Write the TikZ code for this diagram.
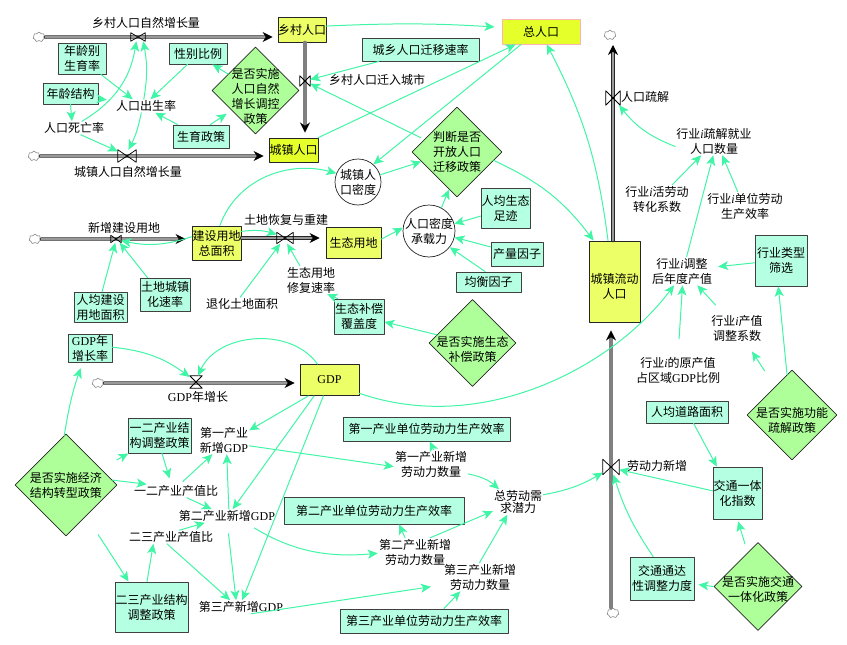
\documentclass[tikz,border=0pt]{standalone}
\usepackage{fontspec}
\setmainfont{Noto Sans CJK SC}
\newfontfamily\latinfont{Liberation Serif}
\newcommand{\gdptext}{{\latinfont GDP}}
\newcommand{\indi}{{\latinfont\itshape i}}
\usetikzlibrary{arrows.meta,shapes.geometric,shapes.symbols}
\definecolor{auxfill}{HTML}{B5FFE2}
\definecolor{stockfill}{HTML}{EDFF66}
\definecolor{stockbright}{HTML}{E4FF2A}
\definecolor{policyfill}{HTML}{AEFF99}
\definecolor{linkgreen}{HTML}{40F5A5}
\tikzset{
  stockbox/.style 2 args={draw=black!85,fill=stockfill,line width=.9pt,inner sep=0pt,minimum width=#1,minimum height=#2},
  auxbox/.style 2 args={draw=black!75,fill=auxfill,line width=.9pt,inner sep=0pt,minimum width=#1,minimum height=#2},
  policybox/.style={diamond,draw=black!85,fill=policyfill,line width=.7pt,inner sep=0pt,minimum size=#1},
  roundbox/.style={circle,draw=black!85,fill=white,line width=.7pt,inner sep=0pt,minimum size=#1},
  sourcecloud/.style={cloud,cloud puffs=7,cloud puff arc=150,aspect=1.2,draw=black!55,fill=white,line width=.5pt,inner sep=0pt,minimum width=12pt,minimum height=10pt},
  flowpipe/.style={draw=black!85,line width=.9pt,double=black!40,double distance=1.6pt,-{Stealth[black,length=10pt,width=10pt]}},
  graypipe/.style={draw=black!50,line width=3.5pt,-{Stealth[black,length=10pt,width=10pt]}},
  link/.style={color=linkgreen,line width=1pt,-{Stealth[linkgreen,fill=linkgreen,length=10pt,width=9pt,inset=2.5pt]}}
}
\newcommand{\valvebow}[5]{\node [inner sep=0pt,minimum width=#4pt,minimum height=#5pt] (#1) at (#2,#3) {};
\draw [line width=.75pt] (#1.north west)-- (#1.south east)-- (#1.north east)-- (#1.south west)-- cycle;}
\newcommand{\valveglass}[5]{\node [inner sep=0pt,minimum width=#4pt,minimum height=#5pt] (#1) at (#2,#3) {};
\draw [line width=.75pt] (#1.north west)-- (#1.south east)-- (#1.south west)-- (#1.north east)-- cycle;}
\begin{document}
\begin{tikzpicture}[line cap=round,line join=round,x=1pt,y=1pt,every node/.style={font=\fontsize{12}{15}\selectfont,align=center,inner sep=1pt}]
\useasboundingbox (0,0) rectangle (847,-645);
% stocks
\node [stockbox={48pt}{25pt}] (ruralpop) at (302,-29.5) {乡村人口};
\node [stockbox={49pt}{24pt},fill=stockbright] (urbanpop) at (293.5,-150) {城镇人口};
\node [stockbox={78pt}{25pt},fill=stockbright,draw=red!30] (totalpop) at (541,-31.5) {总人口};
\node [stockbox={49pt}{34pt}] (landarea) at (216.5,-243) {建设用地\\总面积};
\node [stockbox={55pt}{31pt}] (ecoland) at (353.5,-243) {生态用地};
\node [stockbox={59pt}{31pt}] (gdp) at (329.5,-380) {\gdptext};
\node [stockbox={51pt}{81pt},label={[yshift=-5pt]center:城镇流动\\人口}] (floatpop) at (614.5,-281.5) {};
% auxiliaries in boxes
\node [auxbox={48pt}{31pt}] (agefert) at (82,-58.5) {年龄别\\生育率};
\node [auxbox={55pt}{21pt}] (agestruct) at (70.5,-93.5) {年龄结构};
\node [auxbox={58pt}{21pt}] (sexratio) at (198,-53.5) {性别比例};
\node [auxbox={56pt}{23pt}] (fertpolicy) at (201,-136.5) {生育政策};
\node [auxbox={117pt}{23pt}] (migspeed) at (420.5,-49.5) {城乡人口迁移速率};
\node [auxbox={49pt}{40pt}] (ecofoot) at (505.5,-208) {人均生态\\足迹};
\node [auxbox={52pt}{24pt}] (yieldf) at (517,-254) {产量因子};
\node [auxbox={65pt}{20pt}] (equilf) at (488.5,-282) {均衡因子};
\node [auxbox={53pt}{30pt}] (percapland) at (100.5,-307) {人均建设\\用地面积};
\node [auxbox={50pt}{33pt}] (urbanrate) at (165,-294.5) {土地城镇\\化速率};
\node [auxbox={50pt}{35pt}] (ecocover) at (359,-316.5) {生态补偿\\覆盖度};
\node [auxbox={44pt}{28pt}] (gdprate) at (90,-348) {\gdptext 年\\增长率};
\node [auxbox={63pt}{35pt}] (policyA) at (159.5,-435.5) {一二产业结\\构调整政策};
\node [auxbox={73pt}{50pt}] (policyB) at (151.5,-607) {二三产业结构\\调整政策};
\node [auxbox={167pt}{24pt}] (laborA) at (426.5,-429) {第一产业单位劳动力生产效率};
\node [auxbox={180pt}{27pt}] (laborB) at (374,-510.5) {第二产业单位劳动力生产效率};
\node [auxbox={168pt}{24pt}] (laborC) at (424,-621) {第三产业单位劳动力生产效率};
\node [auxbox={52pt}{51pt}] (indfilter) at (781,-260.5) {行业类型\\筛选};
\node [auxbox={82pt}{22pt}] (roadarea) at (687,-412) {人均道路面积};
\node [auxbox={49pt}{52pt}] (transidx) at (737.5,-493) {交通一体\\化指数};
\node [auxbox={64pt}{43pt}] (access) at (662,-578.5) {交通通达\\性调整力度};
% policy diamonds
\node [policybox=87pt,label={[yshift=-6pt]center:是否实施\\人口自然\\增长调控\\政策}] (popctrl) at (255.5,-90.5) {};
\node [policybox=90pt,label={center:判断是否\\开放人口\\迁移政策}] (migdec) at (457,-152) {};
\node [policybox=87pt,label={[yshift=-6pt]center:是否实施生态\\补偿政策}] (ecopolicy) at (472.5,-343) {};
\node [policybox=102pt,label={center:是否实施经济\\结构转型政策}] (econpolicy) at (66,-485) {};
\node [policybox=90pt,label={[yshift=-5pt]center:是否实施功能\\疏解政策}] (funcpolicy) at (792,-415) {};
\node [policybox=88pt,label={[yshift=-3pt]center:是否实施交通\\一体化政策}] (transpolicy) at (758,-586.5) {};
% circles
\node [roundbox=46pt,label={center:城镇人\\口密度}] (densU) at (358,-182) {};
\node [roundbox=52pt,label={center:人口密度\\承载力}] (capac) at (429,-231) {};
% plain variables
\node (ruralflow) at (146,-23) {乡村人口自然增长量};
\node (migflow) at (377,-80) {乡村人口迁入城市};
\node (urbanflow) at (128,-172) {城镇人口自然增长量};
\node (birth) at (146,-106) {人口出生率};
\node (death) at (74,-128) {人口死亡率};
\node (newland) at (124,-228) {新增建设用地};
\node (restore) at (286,-220) {土地恢复与重建};
\node (ecorate) at (311,-280) {生态用地\\修复速率};
\node (degraded) at (242,-304) {退化土地面积};
\node (gdpflow) at (198,-397) {\gdptext 年增长};
\node (gdpA) at (224,-440) {第一产业\\新增\gdptext};
\node (ratioA) at (176,-491) {一二产业产值比};
\node (gdpB) at (227,-516) {第二产业新增\gdptext};
\node (ratioB) at (171,-537) {二三产业产值比};
\node (gdpC) at (241,-607) {第三产新增\gdptext};
\node (newlabA) at (431,-464) {第一产业新增\\劳动力数量};
\node (newlabB) at (415,-552) {第二产业新增\\劳动力数量};
\node (newlabC) at (480,-577) {第三产业新增\\劳动力数量};
\node [font=\fontsize{12}{12}\selectfont] (demand) at (518,-502) {总劳动需\\求潜力};
\node (laborflow) at (657,-466) {劳动力新增};
\node (outflow) at (645,-97) {人口疏解};
\node (jobs) at (714,-141) {行业\indi 疏解就业\\人口数量};
\node (convert) at (657,-199) {行业\indi 活劳动\\转化系数};
\node (outputeff) at (745,-206) {行业\indi 单位劳动\\生产效率};
\node (adjvalue) at (682,-271) {行业\indi 调整\\后年度产值};
\node (adjcoef) at (737,-328) {行业\indi 产值\\调整系数};
\node (orig) at (678,-370) {行业\indi 的原产值\\占区域\gdptext 比例};
% clouds
\node [sourcecloud] (cloudA) at (39,-37) {};
\node [sourcecloud] (cloudB) at (34,-156) {};
\node [sourcecloud] (cloudC) at (35,-239) {};
\node [sourcecloud] (cloudD) at (98,-383) {};
\node [sourcecloud] (cloudE) at (610,-35) {};
\node [sourcecloud] (cloudF) at (613,-613) {};
% pipes
\draw [flowpipe,shorten >=5pt] (cloudA.east)-- (ruralpop.west |- cloudA);
\draw [graypipe,shorten >=5pt] ([xshift=3pt]ruralpop.south)-- ([xshift=11.5pt]urbanpop.north);
\draw [flowpipe,shorten >=5pt] (cloudB.east)-- (urbanpop.west |- cloudB);
\draw [flowpipe,shorten >=6pt] (cloudC.east)-- (landarea.west |- cloudC);
\draw [flowpipe,shorten >=6pt] ([yshift=5pt]landarea.east)-- ([yshift=5pt]ecoland.west);
\draw [flowpipe,shorten >=5pt] (cloudD.east)-- (gdp.west |- cloudD);
\draw [flowpipe,shorten >=6pt] ([xshift=-1.5pt]floatpop.north)-- ([xshift=3pt]cloudE.south);
\draw [graypipe,shorten >=8pt] ([xshift=-2pt]cloudF.north)-- ([xshift=-3.5pt]floatpop.south);
% valves
\valvebow{valveA}{138}{-37}{14}{8}
\valvebow{valveB}{305}{-81}{10}{10}
\valvebow{valveC}{127}{-156}{18}{12}
\valvebow{valveD}{116}{-239}{10}{7}
\valvebow{valveE}{285}{-238}{16}{11}
\valveglass{valveF}{196}{-382}{12}{12}
\valvebow{valveG}{613}{-98}{14}{14}
\valvebow{valveH}{611}{-467}{16}{15}
% influences, population
\draw [link] (agefert.-40)-- (birth.153);
\draw [link,shorten >=8pt] (agestruct.-11)-- (birth.170);
\draw [link] (agestruct.-90)-- (death.107);
\draw [link] (death.40) to[bend right=25] (valveA.-112);
\draw [link] (death.-45)-- (valveC.153);
\draw [link] (birth.108) to[bend right=10] (valveA.-39);
\draw [link] (birth.-125) to[bend left=8] (valveC.77);
\draw [link] (sexratio.-134)-- (birth.56);
\draw [link] (fertpolicy.153)-- (birth.-36);
\draw [link,shorten >=6pt] (fertpolicy.52)-- (popctrl.-140);
\draw [link] (popctrl.149)-- (sexratio.-37);
\draw [link] (migspeed.-164)-- (valveB.16);
\draw [link,shorten <=4pt] (migdec.159)-- (valveB.-27);
\draw [link] (urbanpop.north east)-- (totalpop.-153);
\draw [link] (totalpop.-147)-- (densU.49);
\draw [link,shorten >=7pt] (ruralpop.8) to[bend left=3] (totalpop.174);
\draw [link] (landarea.79) to[out=70,in=165] (densU.158);
\draw [link] (densU.18)-- (migdec.-165);
\draw [link] (capac.62)-- (migdec.-102);
\draw [link] (ecofoot.-162)-- (capac.16);
\draw [link] (yieldf.165)-- (capac.-14);
\draw [link] (equilf.108)-- (capac.-38);
\draw [link] (ecoland.8)-- (capac.173);
\draw [link] (migdec.-13) to[bend left=14] (floatpop.117);
\draw [link] (floatpop.99) to[bend right=10] (totalpop.-66);
% influences, land
\draw [link] (landarea.166) to[bend left=15] (valveD.-17);
\draw [link] (landarea.25) to[bend left=12] (valveE.157);
\draw [link] (percapland.84)-- (valveD.-101);
\draw [link] (urbanrate.136)-- (valveD.-45);
\draw [link] (degraded.105)-- (valveE.-130);
\draw [link] (ecorate.128)-- (valveE.-69);
\draw [link] (ecocover.140)-- (ecorate.-41);
\draw [link] (ecopolicy.167)-- (ecocover.-12);
% influences, economy
\draw [link] (gdprate.2) to[bend left=15] (valveF.141);
\draw [link] (gdp.127) to[bend right=60] (valveF.72);
\draw [link] (gdp.-143)-- (gdpA.21);
\draw [link] (gdp.-134)-- (gdpB.50);
\draw [link] (gdp.-111)-- (gdpC.80);
\draw [link] (gdp.-24) .. controls (480,-435) and (610,-370) .. (adjvalue.-119);
\draw [link,shorten >=6pt] (econpolicy.92) to[bend left=5] (gdprate.-117);
\draw [link,shorten <=18pt] (econpolicy.25)-- (policyA.-150);
\draw [link] (econpolicy.6)-- (ratioA.167);
\draw [link,shorten <=22pt] (econpolicy.-57)-- (policyB.132);
\draw [link,shorten >=6pt] (policyA.-82)-- (ratioA.125);
\draw [link,shorten <=4pt] (ratioA.60)-- (gdpA.-129);
\draw [link] (ratioA.-32)-- (gdpB.156);
\draw [link] (ratioB.39)-- (gdpB.-163);
\draw [link] (policyB.100)-- (ratioB.-159);
\draw [link] (ratioB.-121)-- (gdpC.148);
\draw [link] (gdpB.75)-- (gdpA.-79);
\draw [link,shorten <=11pt] (gdpB.-88)-- (gdpC.126);
\draw [link] (gdpA.-13)-- (newlabA.-176);
\draw [link,shorten <=10pt] (gdpB.-20) to[bend right=18] (newlabB.-178);
\draw [link,shorten >=12pt] (gdpC.-34)-- (newlabC.-168);
\draw [link] (newlabA.80)-- (laborA.-75);
\draw [link] (newlabB.125)-- (laborB.-29);
\draw [link] (laborC.32)-- (newlabC.-144);
\draw [link] (newlabA.-15) to[bend left=15] (demand.146);
\draw [link] (newlabB.43)-- (demand.-160);
\draw [link] (newlabC.92)-- (demand.-130);
\draw [link] (demand.16) to[bend right=10] (valveH.-146);
% influences, industry and transport
\draw [link] (transidx.175)-- (valveH.-18);
\draw [link] (access.112) to[bend left=8] (valveH.-73);
\draw [link,shorten >=4pt] (transpolicy.180)-- (access.-10);
\draw [link,shorten <=9pt,shorten >=2pt] (transpolicy.107)-- (transidx.-90);
\draw [link] (roadarea.-60)-- (transidx.128);
\draw [link] (funcpolicy.97)-- (indfilter.-96);
\draw [link,shorten <=19pt,shorten >=11pt] (funcpolicy.121)-- (adjcoef.-58);
\draw [link,shorten <=12pt] (adjcoef.133)-- (adjvalue.-43);
\draw [link,shorten <=17pt] (orig.90)-- (adjvalue.-88);
\draw [link,shorten >=5pt] (indfilter.-175)-- (adjvalue.7);
\draw [link] (adjvalue.72)-- (jobs.-93);
\draw [link] (convert.43)-- (jobs.-132);
\draw [link] (outputeff.117)-- (jobs.-60);
\draw [link] (jobs.-172) to[bend left=15] (valveG.-50);
\end{tikzpicture}
\end{document}
